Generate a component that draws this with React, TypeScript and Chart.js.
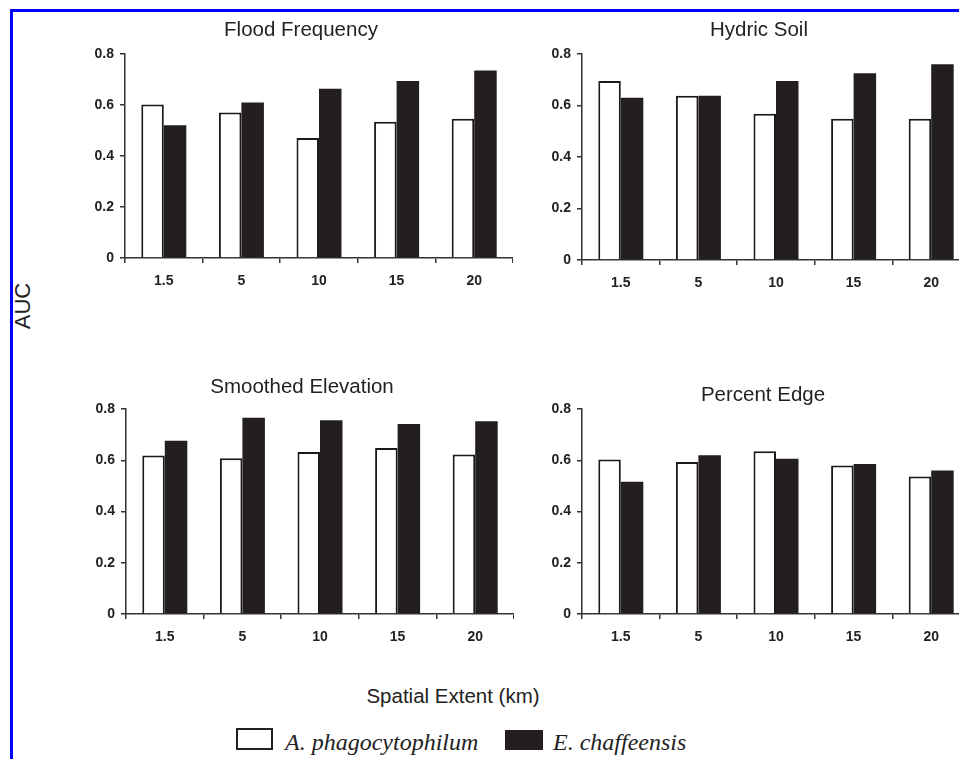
import React, { useEffect, useRef } from 'react';
import { Chart, registerables } from 'chart.js';

Chart.register(...registerables);

// ---------- data ----------
const categories = ['1.5', '5', '10', '15', '20'];
const yTickValues = [0, 0.2, 0.4, 0.6, 0.8];
const seriesNames = ['A. phagocytophilum', 'E. chaffeensis'];

const floodA = [0.602, 0.571, 0.471, 0.534, 0.546];
const floodE = [0.521, 0.61, 0.664, 0.694, 0.735];

const hydricA = [0.695, 0.638, 0.568, 0.549, 0.549];
const hydricE = [0.63, 0.638, 0.695, 0.725, 0.76];

const elevA = [0.619, 0.608, 0.632, 0.648, 0.622];
const elevE = [0.676, 0.766, 0.756, 0.741, 0.752];

const edgeA = [0.603, 0.593, 0.635, 0.58, 0.537];
const edgeE = [0.516, 0.62, 0.606, 0.585, 0.56];

const panelTitles = ['Flood Frequency', 'Hydric Soil', 'Smoothed Elevation', 'Percent Edge'];
const xAxisTitle = 'Spatial Extent (km)';
const yAxisTitle = 'AUC';

// ---------- style ----------
const SANS = '"Liberation Sans", Arial, sans-serif';
const SERIF = '"Liberation Serif", "Times New Roman", serif';
const INK = '#222';
const BAR_DARK = '#231f20';

const Y_W = 60;
const PAD_TOP = 20;
const X_H = 40;

type PanelProps = {
  a: number[];
  e: number[];
  plotLeft: number;
  plotTop: number;
  plotRight: number;
  plotBottom: number;
};

function Panel({ a, e, plotLeft, plotTop, plotRight, plotBottom }: PanelProps) {
  const ref = useRef<HTMLCanvasElement | null>(null);
  const left = plotLeft - Y_W;
  const top = plotTop - PAD_TOP;
  const width = plotRight - plotLeft + Y_W;
  const height = plotBottom - plotTop + PAD_TOP + X_H;

  useEffect(() => {
    if (!ref.current) return;
    const tickFont = { family: SANS, size: 14, weight: 'bold' as const };
    const chart = new Chart(ref.current, {
      type: 'bar',
      data: {
        labels: categories,
        datasets: [
          {
            label: seriesNames[0],
            data: a,
            backgroundColor: '#ffffff',
            borderColor: '#1a1a1a',
            borderWidth: 2,
            barPercentage: 1,
            categoryPercentage: 0.58,
          },
          {
            label: seriesNames[1],
            data: e,
            backgroundColor: BAR_DARK,
            borderWidth: 0,
            barPercentage: 1,
            categoryPercentage: 0.58,
          },
        ],
      },
      options: {
        responsive: false,
        animation: false,
        events: [],
        layout: { padding: { top: PAD_TOP, left: 0, right: 0, bottom: 0 } },
        plugins: {
          legend: { display: false },
          tooltip: { enabled: false },
          title: { display: false },
        },
        scales: {
          x: {
            type: 'category',
            offset: true,
            grid: {
              display: true,
              offset: true,
              drawOnChartArea: false,
              drawTicks: true,
              tickLength: 5,
              color: '#333',
              lineWidth: 1.5,
            },
            border: { display: true, color: '#333', width: 1.5 },
            ticks: {
              font: tickFont,
              color: INK,
              padding: 10,
              maxRotation: 0,
              autoSkip: false,
            },
            afterFit: (s: any) => {
              s.height = X_H;
            },
          },
          y: {
            type: 'linear',
            min: 0,
            max: 0.8,
            afterBuildTicks: (s: any) => {
              s.ticks = yTickValues.map((v) => ({ value: v }));
            },
            grid: {
              display: true,
              drawOnChartArea: false,
              drawTicks: true,
              tickLength: 5,
              color: '#333',
              lineWidth: 1.5,
            },
            border: { display: true, color: '#333', width: 1.5 },
            ticks: {
              font: tickFont,
              color: INK,
              padding: 6,
              callback: (v: any) => (Number(v) === 0 ? '0' : Number(v).toFixed(1)),
            },
            afterFit: (s: any) => {
              s.width = Y_W;
            },
          },
        },
      },
    });
    return () => chart.destroy();
  }, [a, e]);

  return (
    <canvas
      ref={ref}
      width={width}
      height={height}
      style={{ position: 'absolute', left, top, width, height }}
    />
  );
}

function Label({
  text,
  cx,
  baseline,
  size,
  family = SANS,
  italic = false,
  align = 'center',
}: {
  text: string;
  cx: number;
  baseline: number;
  size: number;
  family?: string;
  italic?: boolean;
  align?: 'center' | 'left';
}) {
  const ascentRatio = family === SERIF ? 0.8375 : 0.8465;
  return (
    <div
      style={{
        position: 'absolute',
        left: cx,
        top: baseline - ascentRatio * size,
        transform: align === 'center' ? 'translateX(-50%)' : undefined,
        fontFamily: family,
        fontSize: size,
        fontStyle: italic ? 'italic' : 'normal',
        lineHeight: 1,
        whiteSpace: 'nowrap',
        color: INK,
      }}
    >
      {text}
    </div>
  );
}

export default function App() {
  return (
    <div
      style={{
        position: 'absolute',
        left: 0,
        top: 0,
        width: 959,
        height: 759,
        overflow: 'hidden',
        background: '#ffffff',
      }}
    >
      {/* blue frame */}
      <div
        style={{
          position: 'absolute',
          left: 10,
          top: 9,
          width: 1000,
          height: 800,
          borderLeft: '3px solid #0000ff',
          borderTop: '3px solid #0000ff',
        }}
      />

      <Panel a={floodA} e={floodE} plotLeft={125} plotTop={54} plotRight={513} plotBottom={258} />
      <Panel a={hydricA} e={hydricE} plotLeft={582} plotTop={54} plotRight={970} plotBottom={260} />
      <Panel a={elevA} e={elevE} plotLeft={126} plotTop={409} plotRight={514} plotBottom={614} />
      <Panel a={edgeA} e={edgeE} plotLeft={582} plotTop={409} plotRight={970} plotBottom={614} />

      <Label text={panelTitles[0]} cx={301} baseline={36} size={20.5} />
      <Label text={panelTitles[1]} cx={759} baseline={36} size={20.5} />
      <Label text={panelTitles[2]} cx={302} baseline={393} size={20.5} />
      <Label text={panelTitles[3]} cx={763} baseline={401} size={20.5} />

      <Label text={xAxisTitle} cx={453} baseline={703} size={20.5} />

      <div
        style={{
          position: 'absolute',
          left: 22.5,
          top: 306,
          transform: 'translate(-50%, -50%) rotate(-90deg)',
          fontFamily: SANS,
          fontSize: 22,
          lineHeight: 1,
          whiteSpace: 'nowrap',
          color: INK,
        }}
      >
        {yAxisTitle}
      </div>

      {/* legend */}
      <div
        style={{
          position: 'absolute',
          left: 236,
          top: 728,
          width: 37,
          height: 22,
          boxSizing: 'border-box',
          border: '2px solid #222',
          background: '#fff',
        }}
      />
      <Label text={seriesNames[0]} cx={285} baseline={750} size={24} family={SERIF} italic align="left" />
      <div
        style={{
          position: 'absolute',
          left: 505,
          top: 730,
          width: 38,
          height: 20,
          background: BAR_DARK,
        }}
      />
      <Label text={seriesNames[1]} cx={553} baseline={750} size={24} family={SERIF} italic align="left" />
    </div>
  );
}
